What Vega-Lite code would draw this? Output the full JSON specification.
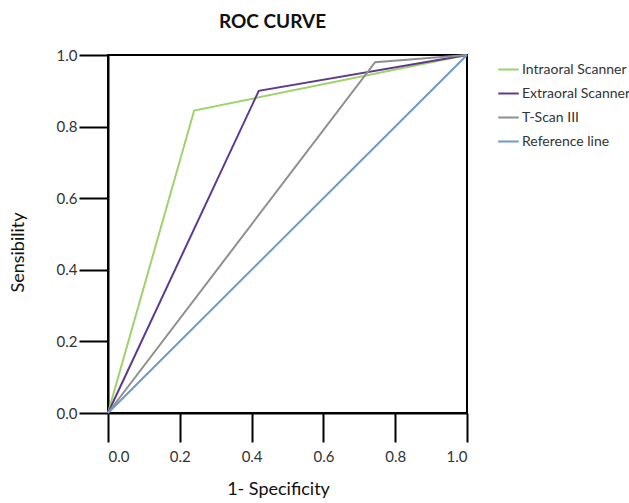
{
  "$schema": "https://vega.github.io/schema/vega-lite/v6.json",
  "autosize": "none",
  "width": 359,
  "height": 358,
  "padding": {"left": 108, "top": 55, "right": 162, "bottom": 90},
  "background": "white",
  "config": {
    "font": "Lato",
    "view": {"stroke": "black", "strokeWidth": 2}
  },
  "title": {"text": "ROC CURVE", "fontSize": 19, "fontWeight": "bold", "color": "#111", "offset": 16, "anchor": "middle", "dx": -15, "font": "Lato"},
  "data": {
    "values": [
      {"series": "Intraoral Scanner", "fpr": 0, "tpr": 0, "o": 0},
      {"series": "Intraoral Scanner", "fpr": 0.24, "tpr": 0.845, "o": 1},
      {"series": "Intraoral Scanner", "fpr": 1, "tpr": 1, "o": 2},
      {"series": "Extraoral Scanner", "fpr": 0, "tpr": 0, "o": 0},
      {"series": "Extraoral Scanner", "fpr": 0.42, "tpr": 0.90, "o": 1},
      {"series": "Extraoral Scanner", "fpr": 1, "tpr": 1, "o": 2},
      {"series": "T-Scan III", "fpr": 0, "tpr": 0, "o": 0},
      {"series": "T-Scan III", "fpr": 0.744, "tpr": 0.98, "o": 1},
      {"series": "T-Scan III", "fpr": 1, "tpr": 1, "o": 2},
      {"series": "Reference line", "fpr": 0, "tpr": 0, "o": 0},
      {"series": "Reference line", "fpr": 1, "tpr": 1, "o": 1}
    ]
  },
  "mark": {"type": "line", "strokeWidth": 2, "clip": false},
  "encoding": {
    "x": {
      "field": "fpr", "type": "quantitative",
      "scale": {"domain": [0, 1], "nice": false, "zero": false},
      "axis": {
        "title": "1- Specificity", "titleFontSize": 18, "titleFontWeight": "normal", "titleColor": "#111", "titlePadding": 16, "titleX": 170,
        "values": [0, 0.2, 0.4, 0.6, 0.8, 1.0], "format": ".1f",
        "grid": false, "domainColor": "black", "domainWidth": 2,
        "tickColor": "black", "tickWidth": 2, "tickSize": 29,
        "labelFontSize": 15, "labelColor": "#333", "labelPadding": 7
      }
    },
    "y": {
      "field": "tpr", "type": "quantitative",
      "scale": {"domain": [0, 1], "nice": false, "zero": false},
      "axis": {
        "title": "Sensibility", "titleFontSize": 18, "titleFontWeight": "normal", "titleColor": "#111", "titlePadding": 29, "titleY": 197,
        "values": [0, 0.2, 0.4, 0.6, 0.8, 1.0], "format": ".1f",
        "grid": false, "domainColor": "black", "domainWidth": 2,
        "tickColor": "black", "tickWidth": 2, "tickSize": 29,
        "labelFontSize": 15, "labelColor": "#333", "labelPadding": 2
      }
    },
    "color": {
      "field": "series", "type": "nominal",
      "scale": {
        "domain": ["Intraoral Scanner", "Extraoral Scanner", "T-Scan III", "Reference line"],
        "range": ["#9dd36a", "#5e3a8f", "#8f8f8f", "#6b9bc6"]
      },
      "legend": {
        "title": null, "orient": "none", "legendX": 389, "legendY": 3,
        "symbolType": "stroke", "symbolSize": 420, "symbolStrokeWidth": 2,
        "labelFontSize": 14, "labelColor": "#333", "rowPadding": 5, "labelOffset": 2
      }
    },
    "order": {"field": "o", "type": "quantitative"}
  }
}
